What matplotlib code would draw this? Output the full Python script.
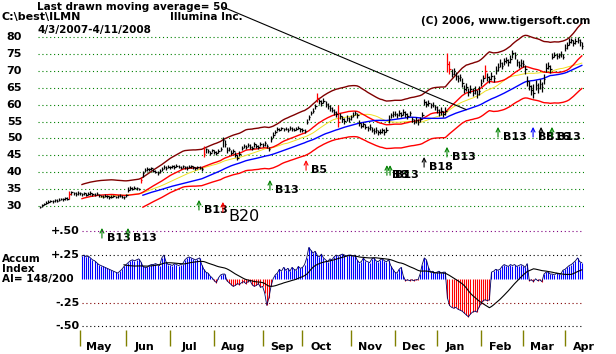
import numpy as np
import pandas as pd
import matplotlib
matplotlib.use('Agg')
import matplotlib.pyplot as plt
import matplotlib.transforms as mtrans

# ------------------------------------------------------------------
# daily bars, ILMN 4/3/2007 - 4/11/2008 (one list per month)
# ------------------------------------------------------------------
close_apr07 = [29.7, 30.2, 30.6, 31.0, 31.3, 31.5, 31.4, 31.7, 31.6, 31.9, 32.1, 32.0, 32.3, 32.2, 33.6, 34.0, 33.8, 33.6, 33.9]
high_apr07 = [30.1, 30.5, 31.0, 31.4, 31.7, 31.9, 31.8, 32.0, 32.0, 32.3, 32.5, 32.4, 32.6, 32.6, 34.4, 34.5, 34.2, 34.0, 34.3]
low_apr07 = [29.3, 29.8, 30.2, 30.6, 30.9, 31.1, 31.0, 31.3, 31.2, 31.5, 31.7, 31.6, 31.9, 31.8, 32.0, 33.4, 33.3, 33.1, 33.4]

close_may = [33.7, 33.5, 33.8, 33.4, 33.6, 33.9, 33.5, 33.3, 33.6, 33.2, 33.0, 32.8, 33.1, 32.9, 32.6, 32.8, 33.0, 32.7, 32.9, 33.1, 32.8, 32.6]
high_may = [34.1, 33.9, 34.2, 33.9, 34.0, 34.3, 33.9, 33.7, 34.0, 33.6, 33.4, 33.2, 33.5, 33.3, 33.0, 33.2, 33.4, 33.1, 33.3, 33.5, 33.2, 33.0]
low_may = [33.2, 33.1, 33.3, 33.0, 33.2, 33.4, 33.1, 32.9, 33.2, 32.8, 32.6, 32.4, 32.7, 32.5, 32.2, 32.4, 32.6, 32.3, 32.5, 32.7, 32.4, 32.2]

close_jun = [33.2, 34.8, 35.3, 35.0, 35.4, 35.2, 35.0, 37.8, 39.8, 40.6, 41.0, 40.8, 41.2, 40.5, 40.2, 39.8, 40.3, 41.0, 41.5, 41.2, 41.6]
high_jun = [33.6, 35.6, 35.8, 35.5, 35.8, 35.6, 35.4, 38.5, 40.4, 41.1, 41.4, 41.3, 41.6, 41.0, 40.7, 40.3, 40.8, 41.4, 42.0, 41.7, 42.0]
low_jun = [32.8, 34.0, 34.8, 34.6, 35.0, 34.8, 34.6, 36.8, 38.6, 40.1, 40.5, 40.3, 40.7, 40.0, 39.7, 39.2, 39.8, 40.5, 41.0, 40.7, 41.1]

close_jul = [41.4, 41.8, 41.5, 41.9, 41.6, 41.3, 41.7, 41.5, 41.2, 41.6, 41.8, 41.4, 41.1, 41.5, 41.3, 41.0, 45.5, 46.8, 46.2, 45.8, 46.5]
high_jul = [41.9, 42.2, 42.0, 42.3, 42.0, 41.8, 42.1, 41.9, 41.7, 42.0, 42.2, 41.8, 41.6, 41.9, 41.8, 41.5, 47.8, 47.3, 46.8, 46.3, 47.0]
low_jul = [40.9, 41.3, 41.0, 41.4, 41.1, 40.8, 41.2, 41.0, 40.7, 41.1, 41.3, 40.9, 40.6, 41.0, 40.8, 40.5, 44.4, 45.8, 45.6, 45.2, 45.9]

close_aug = [46.0, 45.6, 46.3, 46.8, 49.6, 48.2, 46.5, 47.0, 45.8, 46.4, 45.2, 44.2, 45.5, 47.2, 47.8, 47.4, 48.0, 47.6, 47.3, 48.2, 47.8, 47.5, 48.4]
high_aug = [46.6, 46.2, 46.8, 47.4, 50.4, 49.4, 47.4, 47.6, 46.6, 47.0, 46.0, 45.0, 46.2, 47.8, 48.4, 48.0, 48.6, 48.2, 47.9, 48.8, 48.4, 48.1, 49.0]
low_aug = [45.4, 45.0, 45.7, 46.2, 47.6, 47.6, 45.8, 46.4, 45.2, 45.8, 44.6, 43.6, 44.8, 46.5, 47.2, 46.8, 47.4, 47.0, 46.7, 47.6, 47.2, 46.9, 47.8]

close_sep = [48.0, 48.5, 47.8, 47.0, 49.8, 51.0, 52.0, 52.8, 52.6, 53.0, 52.7, 52.9, 52.5, 53.1, 52.8, 52.6, 52.9, 53.2, 52.7]
high_sep = [48.6, 49.1, 48.4, 47.6, 50.6, 51.8, 52.6, 53.3, 53.1, 53.5, 53.2, 53.4, 53.0, 53.6, 53.3, 53.1, 53.4, 53.7, 53.2]
low_sep = [47.4, 47.9, 47.2, 46.4, 49.0, 50.2, 51.4, 52.3, 52.1, 52.5, 52.2, 52.4, 52.0, 52.6, 52.3, 52.1, 52.4, 52.7, 51.9]

close_oct = [52.6, 52.2, 55.0, 56.2, 57.5, 58.2, 59.5, 62.0, 61.0, 60.5, 61.2, 60.2, 59.6, 59.0, 58.5, 57.8, 57.2, 55.0, 56.5, 55.8, 55.2, 56.0, 55.6]
high_oct = [53.2, 52.9, 55.8, 57.0, 58.2, 58.9, 60.3, 63.4, 61.8, 61.3, 62.0, 61.0, 60.4, 59.8, 59.3, 58.6, 58.0, 60.0, 57.4, 56.6, 56.0, 56.8, 56.4]
low_oct = [52.0, 51.6, 54.2, 55.4, 56.8, 57.5, 58.7, 60.7, 60.2, 59.7, 60.4, 59.4, 58.8, 58.2, 57.7, 57.0, 56.4, 53.4, 55.6, 55.0, 54.4, 55.2, 54.8]

close_nov = [56.2, 57.0, 57.4, 56.8, 54.5, 53.8, 54.2, 53.5, 53.0, 53.4, 52.6, 52.2, 52.5, 51.8, 52.0, 52.4, 51.9, 52.6, 55.8, 56.8, 57.2]
high_nov = [57.0, 57.8, 58.0, 57.6, 55.4, 54.6, 55.0, 54.3, 53.8, 54.2, 53.4, 53.0, 53.3, 52.6, 52.8, 53.2, 52.7, 53.4, 57.0, 57.6, 58.0]
low_nov = [55.4, 56.2, 56.8, 56.0, 53.7, 53.0, 53.4, 52.7, 52.2, 52.6, 51.8, 51.4, 51.7, 51.0, 51.2, 51.6, 51.1, 51.8, 54.6, 56.0, 56.4]

close_dec = [57.3, 56.8, 57.5, 57.0, 57.8, 57.2, 56.6, 57.4, 55.6, 55.0, 55.4, 54.8, 55.6, 57.0, 60.8, 60.2, 60.5, 59.8, 60.0, 59.2]
high_dec = [58.1, 57.6, 58.3, 57.8, 58.6, 58.0, 57.4, 58.2, 56.4, 55.8, 56.2, 55.6, 56.4, 57.8, 61.8, 61.0, 61.3, 60.6, 60.8, 60.0]
low_dec = [56.5, 56.0, 56.7, 56.2, 57.0, 56.4, 55.8, 56.6, 54.8, 54.2, 54.6, 54.0, 54.8, 56.2, 59.8, 59.4, 59.7, 59.0, 59.2, 58.4]

close_jan = [58.5, 57.8, 58.2, 57.2, 58.0, 72.0, 70.5, 69.2, 69.8, 68.5, 67.8, 68.2, 66.5, 64.5, 65.2, 63.8, 64.6, 63.5, 64.2, 63.0, 64.0]
high_jan = [59.6, 58.8, 59.4, 58.2, 59.2, 75.3, 73.0, 70.4, 70.8, 69.6, 68.8, 69.2, 67.8, 65.8, 66.4, 65.0, 65.8, 64.8, 65.4, 64.4, 65.4]
low_jan = [57.4, 56.6, 57.0, 56.2, 57.0, 69.6, 69.0, 68.2, 68.8, 67.4, 66.8, 67.0, 65.2, 63.4, 64.0, 62.6, 63.4, 62.4, 63.0, 62.0, 62.8]

close_feb = [66.5, 67.8, 70.0, 68.2, 67.5, 68.6, 67.8, 70.2, 71.0, 72.2, 71.5, 72.8, 73.2, 72.5, 73.5, 75.2, 74.6, 72.5, 71.8, 72.4]
high_feb = [67.6, 68.8, 71.7, 69.4, 68.6, 69.6, 68.8, 71.4, 72.2, 73.4, 72.6, 73.8, 74.2, 73.6, 74.8, 76.2, 75.6, 73.6, 72.8, 73.4]
low_feb = [65.4, 66.8, 67.8, 67.0, 66.4, 67.4, 66.8, 69.2, 70.0, 71.0, 70.4, 71.8, 72.2, 71.4, 72.4, 73.8, 73.4, 71.4, 70.8, 71.2]

close_mar = [72.0, 70.5, 67.0, 65.5, 64.2, 63.5, 65.8, 64.8, 66.0, 65.2, 67.5, 70.8, 71.5, 70.6, 74.2, 74.8, 74.4, 74.6, 75.0, 74.2]
high_mar = [73.2, 71.8, 68.6, 67.0, 65.8, 66.2, 67.4, 66.4, 67.6, 66.8, 69.0, 72.2, 72.6, 71.8, 75.2, 75.6, 75.2, 75.4, 75.8, 75.0]
low_mar = [71.0, 69.2, 65.6, 64.2, 62.8, 62.0, 64.4, 63.4, 64.6, 63.8, 66.0, 69.6, 70.4, 69.4, 73.4, 74.0, 73.6, 73.8, 74.2, 73.4]

close_apr08 = [76.8, 77.5, 78.6, 79.0, 78.2, 78.8, 79.2, 78.5, 77.4]
high_apr08 = [77.8, 78.4, 79.6, 79.8, 79.2, 79.6, 79.9, 79.4, 78.6]
low_apr08 = [76.0, 76.6, 77.6, 78.2, 77.2, 77.8, 78.2, 77.4, 76.4]

# days drawn in red (big-volume days)
red_days = [14, 48, 78, 132, 142, 194, 195, 212]

# accumulation index, starts at trading day 20
ai_first_day = 20
ai_may = [0.24, 0.25, 0.23, 0.24, 0.22, 0.20, 0.19, 0.17, 0.15, 0.14, 0.13, 0.12, 0.11, 0.10, 0.09, 0.08, 0.07, 0.06, 0.08, 0.10, 0.13]
ai_jun = [0.15, 0.17, 0.19, 0.20, 0.19, 0.20, 0.21, 0.18, 0.13, 0.12, 0.12, 0.14, 0.15, 0.15, 0.16, 0.15, 0.14, 0.22, 0.25, 0.18, 0.15]
ai_jul = [0.15, 0.14, 0.16, 0.15, 0.14, 0.15, 0.16, 0.20, 0.22, 0.23, 0.22, 0.21, 0.20, 0.21, 0.22, 0.15, 0.10, 0.07, 0.06, 0.03, 0.01]
ai_aug = [-0.02, -0.04, 0.01, 0.04, 0.05, 0.05, -0.02, -0.04, -0.06, -0.08, -0.07, -0.05, -0.06, -0.04, -0.03, -0.05, -0.03, -0.02, -0.06, -0.08, -0.07, -0.05, -0.09]
ai_sep = [-0.08, -0.15, -0.28, -0.20, -0.08, 0.00, 0.04, 0.06, 0.10, 0.08, 0.12, 0.09, 0.11, 0.08, 0.12, 0.10, 0.09, 0.13, 0.11]
ai_oct = [0.12, 0.15, 0.22, 0.33, 0.30, 0.27, 0.29, 0.25, 0.23, 0.26, 0.22, 0.20, 0.18, 0.21, 0.20, 0.23, 0.25, 0.24, 0.25, 0.26, 0.25, 0.24, 0.25]
ai_nov = [0.25, 0.24, 0.25, 0.20, 0.17, 0.18, 0.22, 0.19, 0.18, 0.17, 0.21, 0.22, 0.19, 0.18, 0.20, 0.21, 0.19, 0.18, 0.20, 0.14, 0.10]
ai_dec = [0.07, 0.06, 0.10, 0.12, 0.03, -0.02, -0.01, -0.02, -0.01, -0.02, -0.01, -0.01, 0.05, 0.15, 0.22, 0.20, 0.12, 0.07, 0.08, 0.06]
ai_jan = [0.07, 0.08, 0.06, 0.07, 0.07, -0.20, -0.28, -0.30, -0.31, -0.30, -0.32, -0.33, -0.34, -0.36, -0.38, -0.40, -0.37, -0.35, -0.34, -0.35, -0.30]
ai_feb = [-0.26, -0.23, -0.22, -0.23, -0.22, 0.07, 0.08, 0.10, 0.09, 0.10, 0.13, 0.15, 0.14, 0.13, 0.15, 0.14, 0.15, 0.13, 0.14, 0.15]
ai_mar = [0.14, 0.12, 0.16, -0.02, -0.01, -0.03, 0.00, -0.02, -0.01, -0.03, 0.05, 0.07, 0.07, 0.05, 0.05, 0.04, 0.06, 0.05, 0.05, 0.09]
ai_apr = [0.10, 0.12, 0.14, 0.15, 0.17, 0.19, 0.22, 0.18, 0.17]

months = ['May', 'Jun', 'Jul', 'Aug', 'Sep', 'Oct', 'Nov', 'Dec', 'Jan', 'Feb', 'Mar', 'Apr']
month_first_day = [19, 41, 62, 83, 106, 125, 148, 169, 189, 210, 230, 250]

price_ticks = [30, 35, 40, 45, 50, 55, 60, 65, 70, 75, 80]

# buy signals: (trading day, price level of arrow tip, label, colour)
signals = [
    (29.5, 23.5, 'B13', 'green'),
    (41.9, 23.5, 'B13', 'green'),
    (75.7, 31.8, 'B13', 'green'),
    (87.1, 31.2, 'B20', 'red'),
    (109.5, 37.7, 'B13', 'green'),
    (126.7, 43.6, 'B5', 'red'),
    (165.2, 42.1, 'B8', 'green'),
    (166.7, 42.1, 'B13', 'green'),
    (182.9, 44.5, 'B18', 'black'),
    (193.8, 47.5, 'B13', 'green'),
    (218.1, 53.4, 'B13', 'green'),
    (234.8, 53.4, 'B8', 'blue'),
    (238.6, 53.4, 'B16', 'black'),
    (243.8, 53.4, 'B13', 'green'),
]

# ------------------------------------------------------------------
# assemble series + indicators
# ------------------------------------------------------------------
close = np.array(close_apr07 + close_may + close_jun + close_jul + close_aug + close_sep +
                 close_oct + close_nov + close_dec + close_jan + close_feb + close_mar + close_apr08)
high = np.array(high_apr07 + high_may + high_jun + high_jul + high_aug + high_sep +
                high_oct + high_nov + high_dec + high_jan + high_feb + high_mar + high_apr08)
low = np.array(low_apr07 + low_may + low_jun + low_jul + low_aug + low_sep +
               low_oct + low_nov + low_dec + low_jan + low_feb + low_mar + low_apr08)
days = np.arange(len(close))

ai = np.array(ai_may + ai_jun + ai_jul + ai_aug + ai_sep + ai_oct + ai_nov +
              ai_dec + ai_jan + ai_feb + ai_mar + ai_apr)
ai_days = np.arange(ai_first_day, ai_first_day + len(ai))

s = pd.Series(close)
ma21 = s.rolling(21).mean().values
ma30 = s.rolling(30).mean().values
ma50 = s.rolling(50).mean().values
band = 0.13
upper = ma21 * (1 + band)
lower = ma21 * (1 - band)
lower[days < 49] = np.nan   # lower band only shown once the 50-day line starts
ai_ma = pd.Series(ai).rolling(21).mean().values

# ------------------------------------------------------------------
# figure
# ------------------------------------------------------------------
W, H = 616, 354
fig = plt.figure(figsize=(W / 100, H / 100), dpi=100)
fig.patch.set_facecolor('white')

rect = [38 / W, 0, 546 / W, 1]
ax = fig.add_axes(rect)
ax.set_xlim(-0.95, 259.05)
ax.set_ylim(-13.79, 90.95)
ax.axis('off')

ax2 = fig.add_axes(rect)
ax2.set_xlim(-0.95, 259.05)
ax2.set_ylim(-0.7916, 2.935)
ax2.axis('off')

bold = dict(fontsize=7.5, fontweight='bold', color='black')
dots = (0, (1, 2.5))

# price grid + labels
ax.hlines(price_ticks, -0.95, 259.05, colors='#008000', linestyles=dots, lw=0.8)
ytr = mtrans.blended_transform_factory(fig.transFigure, ax.transData)
for v in price_ticks:
    ax.text(22 / W, v, str(v), transform=ytr, ha='right', va='center',
            fontsize=8, fontweight='bold')

# bands and averages
ax.plot(days, upper, color='#800000', lw=1.0)
ax.plot(days, lower, color='red', lw=1.0)
ax.plot(days, ma30, color='#f0e020', lw=0.7)
ax.plot(days, ma21, color='red', lw=1.0)
ax.plot(days, ma50, color='blue', lw=1.0)

# daily bars
bar_col = ['red' if d in red_days else 'black' for d in days]
ax.vlines(days, low, high, colors=bar_col, lw=0.9, zorder=4)
ax.hlines(close, days, days + 0.7, colors=bar_col, lw=0.9, zorder=4)

# signals
for d, lvl, lab, c in signals:
    ax.annotate('', xy=(d, lvl), xytext=(d, lvl - 3.0),
                arrowprops=dict(arrowstyle='->', color=c, lw=0.8,
                                shrinkA=0, shrinkB=0, mutation_scale=7), zorder=5)
    if lab == 'B20':
        ax.annotate(lab, xy=(d, lvl), xytext=(5, -15), textcoords='offset pixels',
                    ha='left', va='center', fontsize=11.5, color='black')
    else:
        ax.annotate(lab, xy=(d, lvl), xytext=(5, -10), textcoords='offset pixels',
                    ha='left', va='center', fontsize=8, fontweight='bold')

# pointer from the title to the 50-day average
ax.annotate('', xy=(203, ma50[203]), xytext=(223 / W, 1 - 7 / H),
            textcoords='figure fraction',
            arrowprops=dict(arrowstyle='-', color='black', lw=0.8, shrinkA=0, shrinkB=0))

# accumulation index
ai_col = np.where(ai >= 0, 'blue', 'red')
ax2.vlines(ai_days, 0, ai, colors=ai_col, lw=0.8)
ax2.plot(ai_days, ai, color='#000060', lw=0.6)
ax2.plot(ai_days, ai_ma, color='black', lw=0.8)

for v, c in [(0.5, '#800080'), (0.25, 'black'), (-0.25, '#800000'), (-0.5, 'black')]:
    ax2.hlines(v, ai_first_day, 259.05, colors=c, linestyles=dots, lw=0.8)
atr = mtrans.blended_transform_factory(fig.transFigure, ax2.transData)
for v, t in [(0.5, '+.50'), (0.25, '+.25'), (-0.25, '-.25'), (-0.5, '-.50')]:
    ax2.text(80 / W, v, t, transform=atr, ha='right', va='center',
             fontsize=8, fontweight='bold')

# month axis
ax2.vlines(month_first_day, -0.707, -0.539, colors='#808000', lw=1.0)
for m, d in zip(months, month_first_day):
    ax2.text(d + 9, -0.72, m, ha='center', va='center', fontsize=8, fontweight='bold')

# header texts
def ftext(x, y, t, **kw):
    fig.text(x / W, 1 - y / H, t, va='center', **kw)

ftext(37, 7, 'Last drawn moving average= 50', **bold)
ftext(2, 17, 'C:\\best\\ILMN', fontsize=8, fontweight='bold')
ftext(170, 17, 'Illumina Inc.', **bold)
ftext(37, 30, '4/3/2007-4/11/2008', **bold)
ftext(421, 21, '(C) 2006, www.tigersoft.com', **bold)
ftext(2, 259, 'Accum', **bold)
ftext(2, 269, 'Index', **bold)
ftext(2, 279, 'AI= 148/200', **bold)

fig.savefig('out.png', dpi=100)
